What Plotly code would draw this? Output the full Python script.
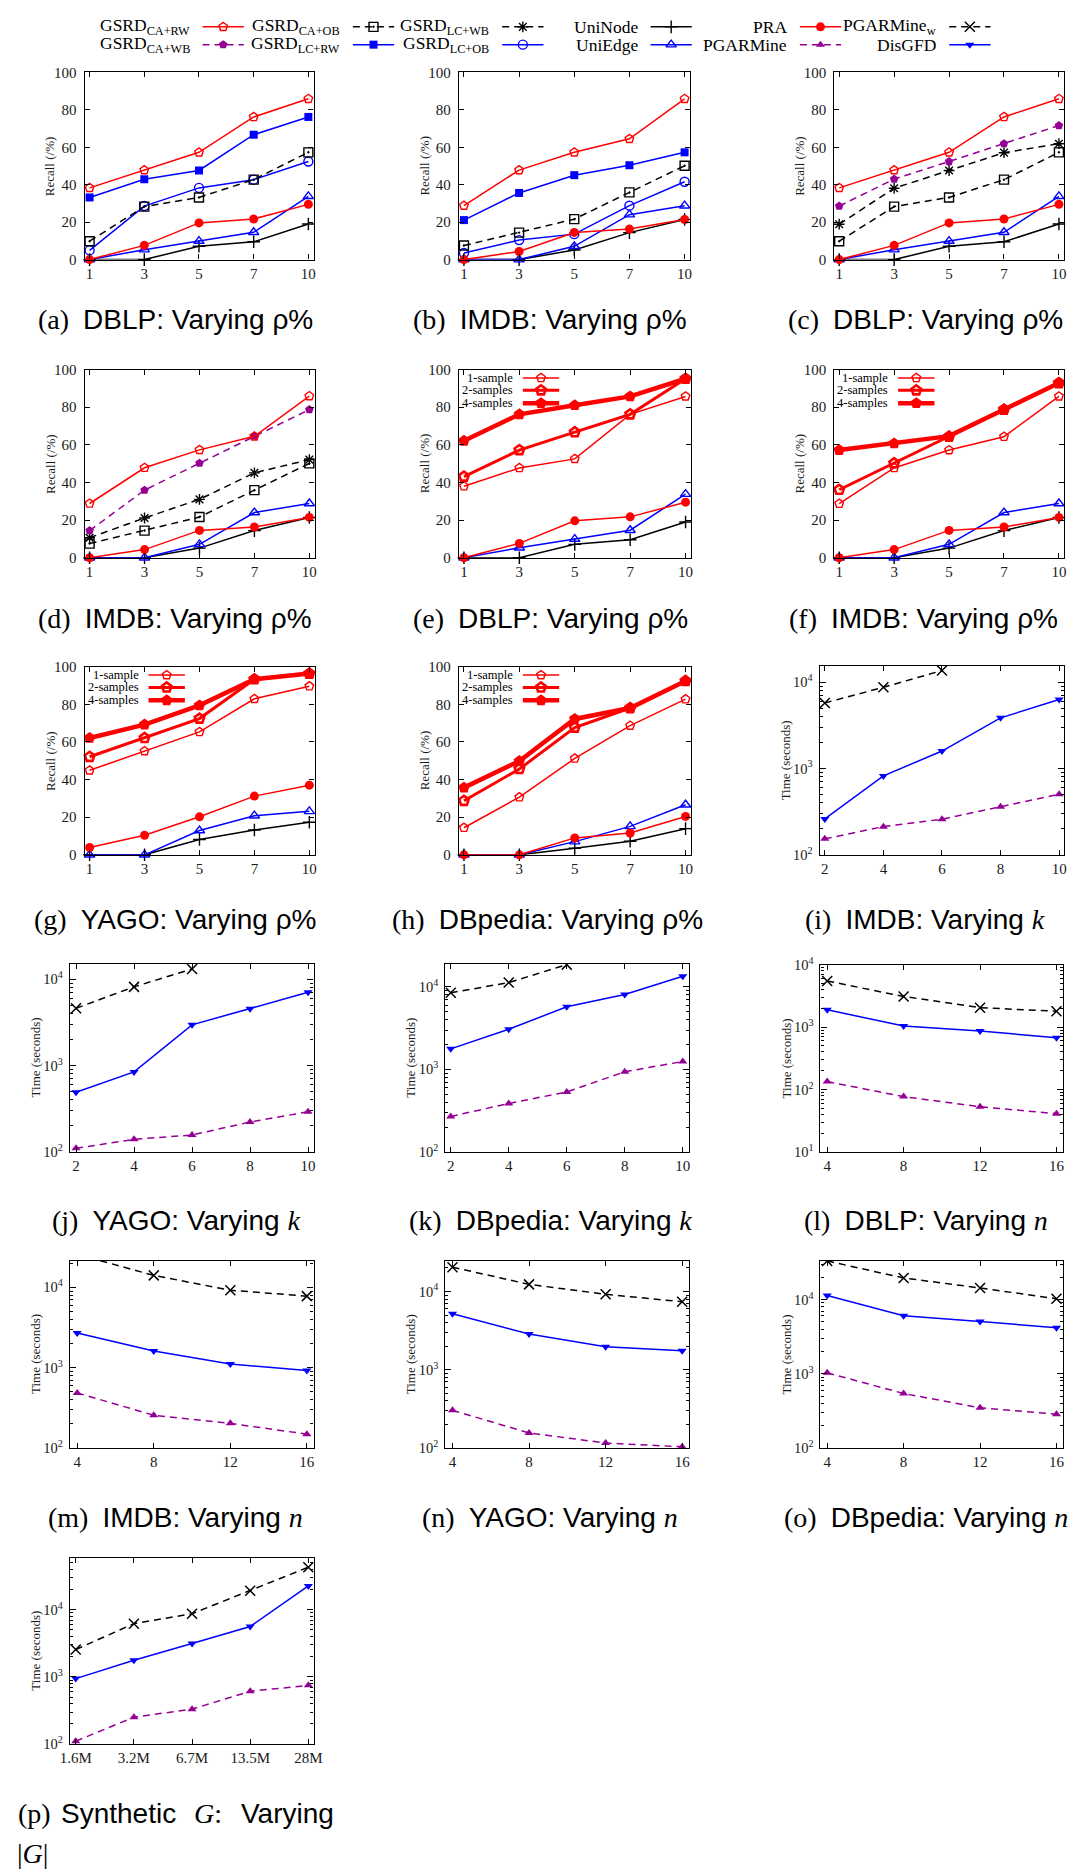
import math
import plotly.graph_objects as go

W, H = 1081, 1876

# ---------------- data ----------------
rho_pct = ["1", "3", "5", "7", "10"]
k_vals = [2, 4, 6, 8, 10]
k_done = [2, 4, 6]            # PGARMine_w only finishes up to k = 6
n_vals = [4, 8, 12, 16]
g_sizes = ["1.6M", "3.2M", "6.7M", "13.5M", "28M"]

# Recall (%) -- DBLP
dblp_ca_rw = [38.3, 47.8, 57.3, 76.2, 85.9]
dblp_ca_wb = [28.6, 43.0, 52.4, 61.9, 71.6]
dblp_ca_ob = [9.8, 28.3, 33.2, 42.7, 57.3]
dblp_lc_rw = [33.2, 42.9, 47.6, 66.7, 76.2]
dblp_lc_wb = [18.9, 38.1, 47.6, 57.1, 61.9]
dblp_lc_ob = [4.9, 28.6, 38.3, 42.7, 52.4]
dblp_uninode = [0, 0, 7.1, 9.5, 19.0]
dblp_uniedge = [0, 5.3, 9.9, 14.6, 33.8]
dblp_pra = [0, 7.6, 19.6, 21.7, 29.5]
dblp_1s = [38.0, 47.7, 52.5, 76.2, 85.7]
dblp_2s = [43.1, 57.2, 66.7, 76.2, 95.1]
dblp_4s = [62.1, 76.2, 81.0, 85.7, 95.1]

# Recall (%) -- IMDB
imdb_ca_rw = [28.8, 47.8, 57.3, 64.5, 85.9]
imdb_ca_wb = [14.4, 35.9, 50.2, 64.6, 78.7]
imdb_ca_ob = [7.5, 14.4, 21.6, 35.9, 50.1]
imdb_lc_rw = [21.1, 35.6, 45.1, 50.4, 57.3]
imdb_lc_wb = [10.6, 21.1, 31.0, 45.1, 52.1]
imdb_lc_ob = [3.5, 10.4, 13.6, 28.8, 41.6]
imdb_uninode = [0, 0, 5.1, 14.4, 21.4]
imdb_uniedge = [0, 0, 7.1, 24.0, 28.8]
imdb_pra = [0, 4.3, 14.5, 16.3, 21.4]
imdb_1s = [28.7, 47.7, 57.2, 64.3, 85.7]
imdb_2s = [36.1, 50.2, 64.3, 78.7, 92.8]
imdb_4s = [57.2, 60.7, 64.6, 78.7, 92.8]

# Recall (%) -- YAGO
yago_1s = [44.9, 55.1, 65.3, 82.9, 89.6]
yago_2s = [52.1, 62.1, 72.4, 93.3, 96.3]
yago_4s = [62.1, 69.2, 79.4, 93.3, 96.3]
yago_uninode = [0, 0, 8.1, 13.2, 17.3]
yago_uniedge = [0, 0, 12.9, 20.8, 23.1]
yago_pra = [3.9, 10.4, 20.2, 31.2, 37.0]

# Recall (%) -- DBpedia
dbp_1s = [14.4, 30.6, 51.2, 68.7, 82.7]
dbp_2s = [28.7, 45.6, 67.6, 78.0, 92.4]
dbp_4s = [35.7, 49.8, 72.2, 78.0, 92.4]
dbp_uninode = [0, 0, 3.5, 7.2, 13.9]
dbp_uniedge = [0, 0, 7.0, 15.1, 26.6]
dbp_pra = [0, 0, 9.0, 11.6, 20.4]

# Time (seconds), varying k
imdb_k_pgw = [5730, 8690, 13600]
imdb_k_disgfd = [260, 820, 1590, 3850, 6270]
imdb_k_pgarmine = [153, 212, 258, 360, 504]
yago_k_pgw = [4620, 8170, 13150]
yago_k_disgfd = [492, 845, 2970, 4550, 7080]
yago_k_pgarmine = [110, 140, 157, 222, 292]
dbp_k_pgw = [8470, 11270, 18600]
dbp_k_disgfd = [1775, 3060, 5740, 8090, 13450]
dbp_k_pgarmine = [269, 386, 533, 937, 1248]

# Time (seconds), varying n
dblp_n_pgw = [5500, 3100, 2050, 1800]
dblp_n_disgfd = [1900, 1040, 865, 678]
dblp_n_pgarmine = [134, 77, 53, 41]
imdb_n_pgw = [25800, 14100, 9230, 7780]
imdb_n_disgfd = [2710, 1620, 1110, 923]
imdb_n_pgarmine = [486, 256, 203, 149]
yago_n_pgw = [20400, 12300, 9200, 7380]
yago_n_disgfd = [5200, 2860, 1970, 1750]
yago_n_pgarmine = [303, 156, 116, 104]
dbp_n_pgw = [33000, 19500, 14300, 10250]
dbp_n_disgfd = [11300, 6030, 5070, 4160]
dbp_n_pgarmine = [1030, 543, 348, 286]

# Time (seconds), varying |G| (synthetic)
syn_pgw = [2560, 6210, 8730, 19200, 43000]
syn_disgfd = [946, 1775, 3140, 5640, 22600]
syn_pgarmine = [111, 252, 332, 612, 751]

# ---------------- styles ----------------
RED, BLUE, PURPLE, BLACK = "#ff0000", "#0000ff", "#940094", "#000000"
DASH = "7px,5px"
SERIF = "Liberation Serif"
SANS = "Liberation Sans"
GAP = "\u2002"

# key: (label, colour, dash, symbol, marker size, line width, marker outline)
STYLES = {
    "CA+RW": ("GSRD<sub>CA+RW</sub>", RED, "solid", "pentagon-open", 9, 1.5, 1.4),
    "CA+WB": ("GSRD<sub>CA+WB</sub>", PURPLE, DASH, "pentagon", 9, 1.5, 0),
    "CA+OB": ("GSRD<sub>CA+OB</sub>", BLACK, DASH, "square-open-dot", 9, 1.5, 1.4),
    "LC+RW": ("GSRD<sub>LC+RW</sub>", BLUE, "solid", "square", 8, 1.5, 0),
    "LC+WB": ("GSRD<sub>LC+WB</sub>", BLACK, DASH, "asterisk-open", 9, 1.5, 1.4),
    "LC+OB": ("GSRD<sub>LC+OB</sub>", BLUE, "solid", "circle-open", 9, 1.5, 1.4),
    "UniNode": ("UniNode", BLACK, "solid", "cross-thin-open", 9, 1.5, 1.4),
    "UniEdge": ("UniEdge", BLUE, "solid", "triangle-up-open", 9, 1.5, 1.4),
    "PRA": ("PRA", RED, "solid", "circle", 9, 1.5, 0),
    "PGARMine_w": ("PGARMine<sub>w</sub>", BLACK, DASH, "x-thin-open", 10, 1.5, 1.5),
    "PGARMine": ("PGARMine", PURPLE, DASH, "triangle-up", 8, 1.5, 0),
    "DisGFD": ("DisGFD", BLUE, "solid", "triangle-down", 8, 1.5, 0),
    "1s": ("1-sample", RED, "solid", "pentagon-open", 9, 1.5, 1.4),
    "2s": ("2-samples", RED, "solid", "pentagon-open", 10, 3.0, 2.6),
    "4s": ("4-samples", RED, "solid", "pentagon", 12, 4.5, 0),
}


def cap_html(tag, dataset, var):
    return (f'<span style="font-family:{SERIF}">({tag})</span>{GAP}'
            f'{dataset}: Varying {var}')


RHO = "ρ%"
KVAR = f'<span style="font-family:{SERIF}"><i>k</i></span>'
NVAR = f'<span style="font-family:{SERIF}"><i>n</i></span>'

# ---------------- panels ----------------
# box = (left, right, top, bottom) in pixels
PANELS = [
    dict(box=(76, 309, 63, 252), kind="recall", cap=("a", "DBLP", RHO, 168, 313),
         series=[("LC+OB", dblp_lc_ob), ("CA+OB", dblp_ca_ob), ("UniNode", dblp_uninode),
                 ("UniEdge", dblp_uniedge), ("PRA", dblp_pra), ("LC+RW", dblp_lc_rw),
                 ("CA+RW", dblp_ca_rw)]),
    dict(box=(457, 692, 63, 252), kind="recall", cap=("b", "IMDB", RHO, 550, 313),
         series=[("LC+OB", imdb_lc_ob), ("CA+OB", imdb_ca_ob), ("UniNode", imdb_uninode),
                 ("UniEdge", imdb_uniedge), ("PRA", imdb_pra), ("LC+RW", imdb_lc_rw),
                 ("CA+RW", imdb_ca_rw)]),
    dict(box=(839, 1073, 63, 252), kind="recall", cap=("c", "DBLP", RHO, 932, 313),
         series=[("CA+OB", dblp_ca_ob), ("LC+WB", dblp_lc_wb), ("CA+WB", dblp_ca_wb),
                 ("UniNode", dblp_uninode), ("UniEdge", dblp_uniedge), ("PRA", dblp_pra),
                 ("CA+RW", dblp_ca_rw)]),
    dict(box=(76, 310, 363, 553), kind="recall", cap=("d", "IMDB", RHO, 168, 614),
         series=[("CA+OB", imdb_ca_ob), ("LC+WB", imdb_lc_wb), ("CA+WB", imdb_ca_wb),
                 ("UniNode", imdb_uninode), ("UniEdge", imdb_uniedge), ("PRA", imdb_pra),
                 ("CA+RW", imdb_ca_rw)]),
    dict(box=(457, 693, 363, 553), kind="recall", cap=("e", "DBLP", RHO, 550, 614), samples=True,
         series=[("UniNode", dblp_uninode), ("UniEdge", dblp_uniedge), ("PRA", dblp_pra),
                 ("1s", dblp_1s), ("2s", dblp_2s), ("4s", dblp_4s)]),
    dict(box=(839, 1073, 363, 553), kind="recall", cap=("f", "IMDB", RHO, 930, 614), samples=True,
         series=[("UniNode", imdb_uninode), ("UniEdge", imdb_uniedge), ("PRA", imdb_pra),
                 ("1s", imdb_1s), ("2s", imdb_2s), ("4s", imdb_4s)]),
    dict(box=(76, 310, 663, 853), kind="recall", cap=("g", "YAGO", RHO, 168, 918), samples=True,
         series=[("UniNode", yago_uninode), ("UniEdge", yago_uniedge), ("PRA", yago_pra),
                 ("1s", yago_1s), ("2s", yago_2s), ("4s", yago_4s)]),
    dict(box=(457, 693, 663, 853), kind="recall", cap=("h", "DBpedia", RHO, 547, 918), samples=True,
         series=[("UniNode", dbp_uninode), ("UniEdge", dbp_uniedge), ("PRA", dbp_pra),
                 ("1s", dbp_1s), ("2s", dbp_2s), ("4s", dbp_4s)]),
    dict(box=(824, 1073, 662, 853), kind="time", x=k_vals, xr=[1.82, 10.17], yr=[2, 4.19],
         cap=("i", "IMDB", KVAR, 931, 918),
         series=[("PGARMine_w", k_done, imdb_k_pgw), ("DisGFD", k_vals, imdb_k_disgfd),
                 ("PGARMine", k_vals, imdb_k_pgarmine)]),
    dict(box=(61, 309, 963, 1153), kind="time", x=k_vals, xr=[1.79, 10.19], yr=[2, 4.18],
         cap=("j", "YAGO", KVAR, 169, 1222),
         series=[("PGARMine_w", k_done, yago_k_pgw), ("DisGFD", k_vals, yago_k_disgfd),
                 ("PGARMine", k_vals, yago_k_pgarmine)]),
    dict(box=(443, 691, 963, 1153), kind="time", x=k_vals, xr=[1.81, 10.21], yr=[2, 4.28],
         cap=("k", "DBpedia", KVAR, 550, 1222),
         series=[("PGARMine_w", k_done, dbp_k_pgw), ("DisGFD", k_vals, dbp_k_disgfd),
                 ("PGARMine", k_vals, dbp_k_pgarmine)]),
    dict(box=(825, 1072, 964, 1153), kind="time", x=n_vals, xr=[3.65, 16.35], yr=[1, 4],
         cap=("l", "DBLP", NVAR, 932, 1222),
         series=[("PGARMine_w", n_vals, dblp_n_pgw), ("DisGFD", n_vals, dblp_n_disgfd),
                 ("PGARMine", n_vals, dblp_n_pgarmine)]),
    dict(box=(61, 309, 1263, 1452), kind="time", x=n_vals, xr=[3.62, 16.35], yr=[2, 4.33],
         cap=("m", "IMDB", NVAR, 168, 1522),
         series=[("PGARMine_w", n_vals, imdb_n_pgw), ("DisGFD", n_vals, imdb_n_disgfd),
                 ("PGARMine", n_vals, imdb_n_pgarmine)]),
    dict(box=(443, 691, 1263, 1452), kind="time", x=n_vals, xr=[3.62, 16.35], yr=[2, 4.39],
         cap=("n", "YAGO", NVAR, 550, 1522),
         series=[("PGARMine_w", n_vals, yago_n_pgw), ("DisGFD", n_vals, yago_n_disgfd),
                 ("PGARMine", n_vals, yago_n_pgarmine)]),
    dict(box=(825, 1072, 1263, 1452), kind="time", x=n_vals, xr=[3.65, 16.35], yr=[2, 4.52],
         cap=("o", "DBpedia", NVAR, 932, 1522),
         series=[("PGARMine_w", n_vals, dbp_n_pgw), ("DisGFD", n_vals, dbp_n_disgfd),
                 ("PGARMine", n_vals, dbp_n_pgarmine)]),
    dict(box=(61, 309, 1563, 1751), kind="time", x=g_sizes, xr=[-0.1, 4.09], yr=[2, 4.77],
         cat=True, cap=None,
         series=[("PGARMine_w", g_sizes, syn_pgw), ("DisGFD", g_sizes, syn_disgfd),
                 ("PGARMine", g_sizes, syn_pgarmine)]),
]

fig = go.Figure()
layout = {}
annotations = []


def px_x(v):
    return v / W


def px_y(v):
    return 1 - v / H


def axis_base():
    return dict(showgrid=False, zeroline=False, showline=True, linecolor="black",
                linewidth=1.2, mirror="ticks", ticks="inside", ticklen=5, tickwidth=1,
                tickcolor="black", fixedrange=True,
                tickfont=dict(family=SERIF, size=15, color="#1a1a1a"))


def add_series(key, x, y, xa, ya, clip):
    label, color, dash, symbol, size, lw, mlw = STYLES[key]
    fig.add_trace(go.Scatter(
        x=x, y=y, mode="lines+markers", xaxis=xa, yaxis=ya, cliponaxis=clip,
        line=dict(color=color, width=lw, dash=dash),
        marker=dict(symbol=symbol, size=size, color=color,
                    line=dict(color=color, width=mlw)),
        showlegend=False, hoverinfo="skip"))


def axis_title(text, cx, cy):
    annotations.append(dict(x=px_x(cx), y=px_y(cy), xref="paper", yref="paper",
                            text=text, textangle=-90, showarrow=False,
                            xanchor="center", yanchor="middle",
                            font=dict(family=SERIF, size=13, color="#1a1a1a")))


for i, p in enumerate(PANELS, start=1):
    l, r, t, b = p["box"]
    xa = "x" if i == 1 else f"x{i}"
    ya = "y" if i == 1 else f"y{i}"
    xk = "xaxis" if i == 1 else f"xaxis{i}"
    yk = "yaxis" if i == 1 else f"yaxis{i}"
    xax = axis_base()
    yax = axis_base()
    xax.update(domain=[px_x(l), px_x(r)], anchor=ya)
    yax.update(domain=[px_y(b), px_y(t)], anchor=xa)

    if p["kind"] == "recall":
        xax.update(type="category", categoryorder="array", categoryarray=rho_pct,
                   range=[-0.09, 4.095])
        yax.update(range=[0, 100], tickvals=[0, 20, 40, 60, 80, 100], ticklabelstandoff=4)
        for key, vals in p["series"]:
            add_series(key, rho_pct, vals, xa, ya, False)
        axis_title("Recall (/%)", l - 35, (t + b) / 2)
    else:
        lo, hi = p["yr"]
        majors = [d for d in range(math.ceil(lo), math.floor(hi) + 1)]
        minors = [m * 10 ** d for d in range(math.floor(lo), math.ceil(hi))
                  for m in range(2, 10) if lo < math.log10(m * 10 ** d) < hi]
        yax.update(type="log", range=[lo, hi], tickvals=[10 ** d for d in majors],
                   ticktext=[f"10<sup>{d}</sup>" for d in majors], ticklen=6,
                   ticklabelstandoff=3,
                   tickfont=dict(family=SERIF, size=14.5, color="#1a1a1a"),
                   minor=dict(tickvals=minors, ticks="inside", ticklen=3,
                              tickcolor="black", tickwidth=1, showgrid=False))
        if p.get("cat"):
            xax.update(type="category", categoryorder="array", categoryarray=p["x"],
                       range=p["xr"])
        else:
            xax.update(range=p["xr"], tickvals=p["x"])
        for key, xs, vals in p["series"]:
            add_series(key, xs, vals, xa, ya, True)
        axis_title("Time (seconds)", l - 35, (t + b) / 2)

    layout[xk] = xax
    layout[yk] = yax

    if p["cap"]:
        tag, ds, var, cx, cy = p["cap"]
        annotations.append(dict(x=px_x(cx), y=px_y(cy), xref="paper", yref="paper",
                                text=cap_html(tag, ds, var), showarrow=False,
                                xanchor="center", yanchor="middle",
                                font=dict(family=SANS, size=28, color="black")))

# caption of the synthetic panel, justified over two lines
for word, x0, fam in [("(p)", 6, SERIF), ("Synthetic", 50, SANS),
                      ("<i>G</i>:", 185, SERIF), ("Varying", 233, SANS)]:
    annotations.append(dict(x=px_x(x0), y=px_y(1821), xref="paper", yref="paper", text=word,
                            showarrow=False, xanchor="left", yanchor="middle",
                            font=dict(family=fam, size=28, color="black")))
annotations.append(dict(x=px_x(5), y=px_y(1861), xref="paper", yref="paper", text="|<i>G</i>|",
                        showarrow=False, xanchor="left", yanchor="middle",
                        font=dict(family=SERIF, size=28, color="black")))

# ---------------- keys (drawn on a full-page pixel axis) ----------------
KEY = len(PANELS) + 1
kx, ky = f"x{KEY}", f"y{KEY}"
layout[f"xaxis{KEY}"] = dict(domain=[0, 1], range=[0, W], visible=False, fixedrange=True)
layout[f"yaxis{KEY}"] = dict(domain=[0, 1], range=[H, 0], visible=False, fixedrange=True)


def add_key(key, text_end, y, fsize, gap=11, span=42):
    label, color, dash, symbol, size, lw, mlw = STYLES[key]
    x0, x1 = text_end + gap, text_end + gap + span
    fig.add_trace(go.Scatter(x=[x0, x1], y=[y, y], mode="lines", xaxis=kx, yaxis=ky,
                             line=dict(color=color, width=lw, dash=dash),
                             showlegend=False, hoverinfo="skip", cliponaxis=False))
    fig.add_trace(go.Scatter(x=[(x0 + x1) / 2], y=[y], mode="markers", xaxis=kx, yaxis=ky,
                             marker=dict(symbol=symbol, size=size, color=color,
                                         line=dict(color=color, width=mlw)),
                             showlegend=False, hoverinfo="skip", cliponaxis=False))
    annotations.append(dict(x=text_end, y=y, xref=kx, yref=ky, text=label, showarrow=False,
                            xanchor="right", yanchor="middle",
                            font=dict(family=SERIF, size=fsize, color="black")))


KEY_COLS = [185, 338, 490, 641, 793, 945]
KEY_ROWS = [["CA+RW", "CA+OB", "LC+WB", "UniNode", "PRA", "PGARMine_w"],
            ["CA+WB", "LC+RW", "LC+OB", "UniEdge", "PGARMine", "DisGFD"]]
for row, yy in zip(KEY_ROWS, [17, 35]):
    for key, xe in zip(row, KEY_COLS):
        add_key(key, xe, yy, 17.5)

for p in PANELS:
    if p.get("samples"):
        l, r, t, b = p["box"]
        for key, dy in zip(["1s", "2s", "4s"], [8.5, 21, 34]):
            add_key(key, l + 57, t + dy, 12.5, gap=8, span=37)

layout["annotations"] = annotations
fig.update_layout(width=W, height=H, margin=dict(l=0, r=0, t=0, b=0),
                  paper_bgcolor="white", plot_bgcolor="rgba(0,0,0,0)",
                  showlegend=False, **layout)

fig.write_html("out.html")
